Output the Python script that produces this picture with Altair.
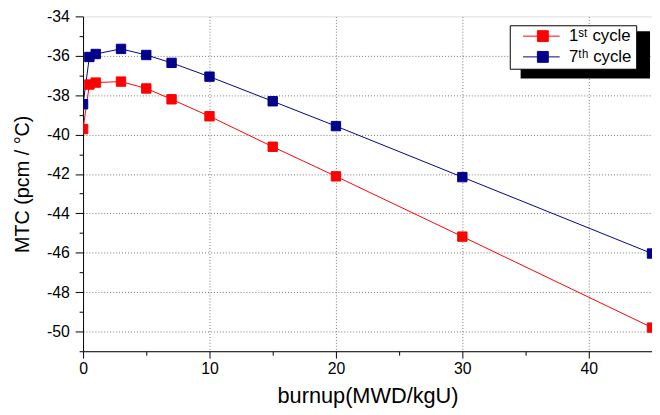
import altair as alt
import pandas as pd

burnup = [0, 0.5, 1, 3, 5, 7, 10, 15, 20, 30, 45]
cycle1 = [-39.72, -37.46, -37.36, -37.31, -37.66, -38.21, -39.07, -40.62, -42.12, -45.18, -49.8]
cycle7 = [-38.46, -36.06, -35.91, -35.65, -35.96, -36.36, -37.06, -38.31, -39.57, -42.16, -46.04]
series = ["1ˢᵗ cycle", "7ᵗʰ cycle"]
colors = ["#FF0000", "#00008B"]
x_ticks = [0, 5, 10, 15, 20, 25, 30, 35, 40, 45]
y_ticks = list(range(-51, -33))

rows = []
for name, vals in zip(series, [cycle1, cycle7]):
    for b, v in zip(burnup, vals):
        rows.append({"burnup": b, "mtc": v, "cycle": name})
df = pd.DataFrame(rows)

FONT = "Liberation Sans"

x_axis = alt.Axis(
    title="burnup(MWD/kgU)", values=x_ticks,
    labelExpr="datum.value % 10 == 0 && datum.value < 45 ? '' + datum.value : ''",
    tickSize={"condition": {"test": "datum.value % 10 == 0", "value": 7}, "value": 4},
    grid=True, gridDash=[1, 2], gridColor="#777",
    gridOpacity={"condition": {"test": "datum.value > 0 && datum.value < 45 && datum.value % 10 == 0", "value": 1}, "value": 0},
    domainColor="black", tickColor="black", labelColor="black", titleColor="black",
    labelFont=FONT, titleFont=FONT, labelFontSize=16, titleFontSize=22,
    titleFontWeight="normal", labelPadding=3, titlePadding=9, labelFlush=False,
)
y_axis = alt.Axis(
    title="MTC (pcm / °C)", values=y_ticks,
    labelExpr="datum.value % 2 == 0 ? '' + datum.value : ''",
    tickSize={"condition": {"test": "datum.value % 2 == 0", "value": 8}, "value": 4},
    grid=True, gridDash=[1, 2], gridColor="#777",
    gridOpacity={"condition": {"test": "datum.value % 2 == 0 && datum.value < -34 && datum.value > -51", "value": 1}, "value": 0},
    domainColor="black", tickColor="black", labelColor="black", titleColor="black",
    labelFont=FONT, titleFont=FONT, labelFontSize=16, titleFontSize=20,
    titleFontWeight="normal", labelPadding=6, titlePadding=14, labelFlush=False,
)

x = alt.X("burnup:Q", scale=alt.Scale(domain=[0, 45], nice=False, zero=False), axis=x_axis)
y = alt.Y("mtc:Q", scale=alt.Scale(domain=[-51, -34], nice=False, zero=False), axis=y_axis)
scale = alt.Scale(domain=series, range=colors)

legend = alt.Legend(
    title=None, orient="none", legendX=432, legendY=9,
    symbolType="M-0.61,0H1M0.02,-0.24H0.5V0.24H0.02Z", symbolSize=2116,
    symbolStrokeWidth=1, clipHeight=14, rowPadding=4, labelOffset=9,
    padding=4, strokeColor="black", fillColor="white", cornerRadius=0,
    labelFont=FONT, labelFontSize=17, labelColor="black",
)

base = alt.Chart(df)
lines = base.mark_line(strokeWidth=1, clip=True).encode(
    x=x, y=y, stroke=alt.Stroke("cycle:N", scale=scale, legend=legend), detail="cycle:N"
)
points = base.mark_point(shape="square", filled=True, size=90, strokeWidth=1, opacity=1, clip=True).encode(
    x=x, y=y,
    fill=alt.Fill("cycle:N", scale=scale, legend=legend),
    stroke=alt.Stroke("cycle:N", scale=scale, legend=legend),
)
shadow = alt.Chart(pd.DataFrame({"shadow": [1]})).mark_rect(color="black").encode(
    x=alt.value(443), x2=alt.value(574), y=alt.value(15), y2=alt.value(63)
)

chart = alt.layer(lines, points, shadow).properties(
    width=576, height=339,
    autosize=alt.AutoSizeParams(type="none"),
    padding={"left": 76, "top": 6, "right": 0, "bottom": 56},
).configure_view(stroke="black", strokeWidth=1).configure(font=FONT)

chart.save("out.html", embed_options={"renderer": "svg", "actions": False})
